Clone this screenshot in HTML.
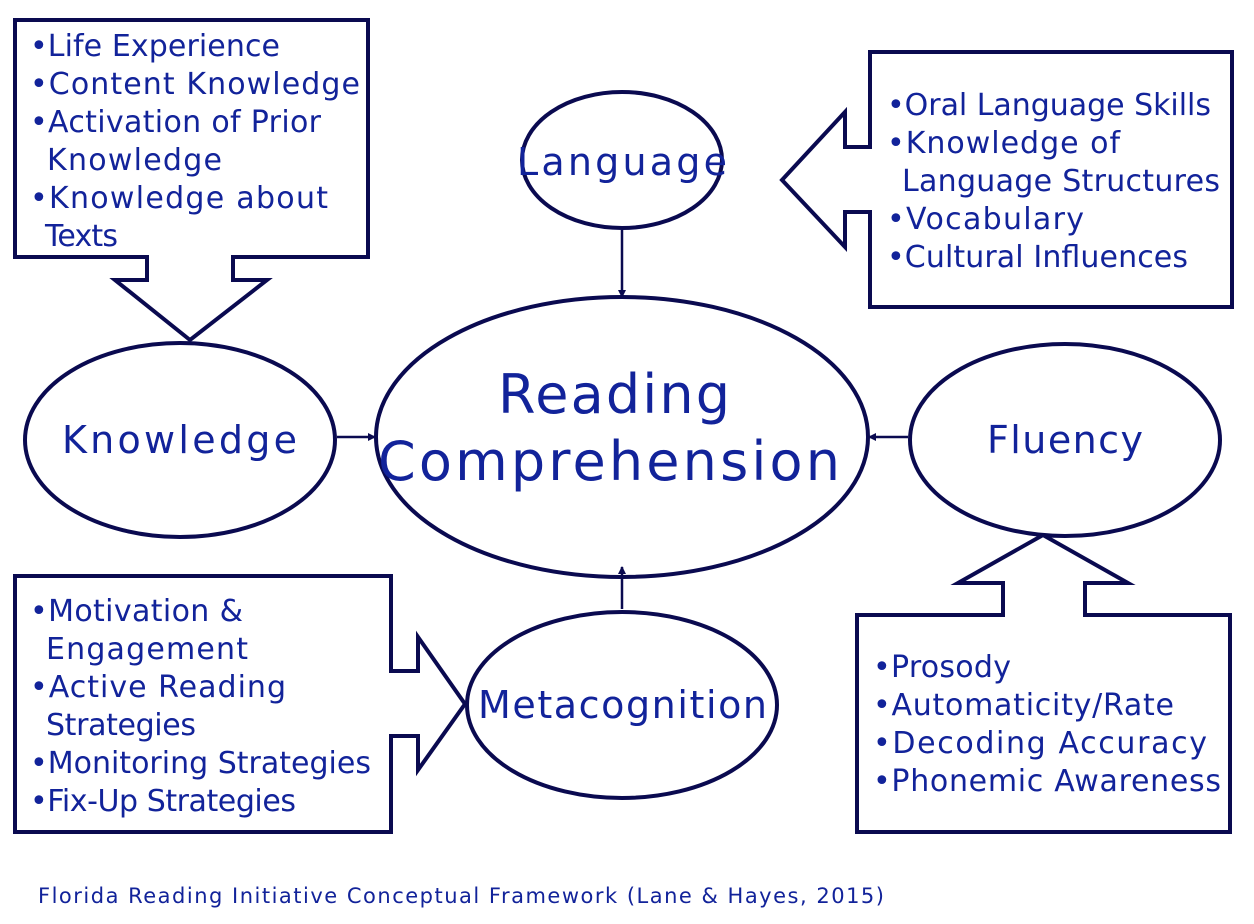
<!DOCTYPE html>
<html><head><meta charset="utf-8"><style>
html,body{margin:0;padding:0;background:#fff;}
svg{display:block;}
text{font-family:"DejaVu Sans","Liberation Sans",sans-serif;fill:#12239a;}
</style></head><body>
<svg width="1254" height="924" viewBox="0 0 1254 924" xmlns="http://www.w3.org/2000/svg">
<defs><marker id="ah" markerWidth="8" markerHeight="8" refX="7" refY="4" orient="auto" markerUnits="userSpaceOnUse"><path d="M0,0 L8,4 L0,8 Z" fill="#0a0a50"/></marker></defs>
<g fill="#fff" stroke="#0a0a50" stroke-width="4">
<path d="M15,20 H368 V257 H233 V280 H267 L190,340 L115,280 H147 V257 H15 Z"/>
<path d="M870,52 H1232 V307 H870 V212 H845 V247 L782,180 L845,112 V147 H870 Z"/>
<path d="M857,615 H1003 V583 H958 L1043,535 L1128,583 H1085 V615 H1230 V832 H857 Z"/>
<path d="M15,576 H391 V671 H418 V637 L465,704 L418,770 V736 H391 V832 H15 Z"/>
<ellipse cx="622" cy="160" rx="100" ry="68"/>
<ellipse cx="622" cy="437" rx="246" ry="140"/>
<ellipse cx="180" cy="440" rx="155" ry="97"/>
<ellipse cx="1065" cy="440" rx="155" ry="96"/>
<ellipse cx="622" cy="705" rx="155" ry="93"/>
</g>
<g stroke="#0a0a50" stroke-width="2.5" fill="none">
<line x1="622" y1="230" x2="622" y2="297" marker-end="url(#ah)"/>
<line x1="337" y1="437" x2="375" y2="437" marker-end="url(#ah)"/>
<line x1="908" y1="437" x2="869" y2="437" marker-end="url(#ah)"/>
<line x1="622" y1="609" x2="622" y2="567" marker-end="url(#ah)"/>
</g>
<g font-size="30">
<text x="30" y="56" textLength="250">•Life Experience</text>
<text x="30" y="94" textLength="330">•Content Knowledge</text>
<text x="30" y="132" textLength="291">•Activation of Prior</text>
<text x="47" y="170" textLength="175">Knowledge</text>
<text x="30" y="208" textLength="298">•Knowledge about</text>
<text x="45" y="246" textLength="73">Texts</text>

<text x="887" y="115" textLength="324">•Oral Language Skills</text>
<text x="887" y="153" textLength="233">•Knowledge of</text>
<text x="902" y="191" textLength="318">Language Structures</text>
<text x="887" y="229" textLength="197">•Vocabulary</text>
<text x="887" y="267" textLength="301">•Cultural Influences</text>

<text x="873" y="677" textLength="138">•Prosody</text>
<text x="873" y="715" textLength="301">•Automaticity/Rate</text>
<text x="873" y="753" textLength="334">•Decoding Accuracy</text>
<text x="873" y="791" textLength="348">•Phonemic Awareness</text>

<text x="30" y="621" textLength="213">•Motivation &amp;</text>
<text x="46" y="659" textLength="202">Engagement</text>
<text x="30" y="697" textLength="256">•Active Reading</text>
<text x="46" y="735" textLength="150">Strategies</text>
<text x="30" y="773" textLength="341">•Monitoring Strategies</text>
<text x="30" y="811" textLength="266">•Fix-Up Strategies</text>
</g>
<text x="517" y="175" font-size="38" textLength="210">Language</text>
<text x="498" y="413" font-size="54" textLength="232">Reading</text>
<text x="378" y="480" font-size="54" textLength="462">Comprehension</text>
<text x="62" y="453" font-size="38" textLength="235">Knowledge</text>
<text x="987" y="453" font-size="38" textLength="156">Fluency</text>
<text x="478" y="718" font-size="38" textLength="289">Metacognition</text>
<text x="38" y="903" font-size="21" textLength="846">Florida Reading Initiative Conceptual Framework (Lane &amp; Hayes, 2015)</text>
</svg>
</body></html>
